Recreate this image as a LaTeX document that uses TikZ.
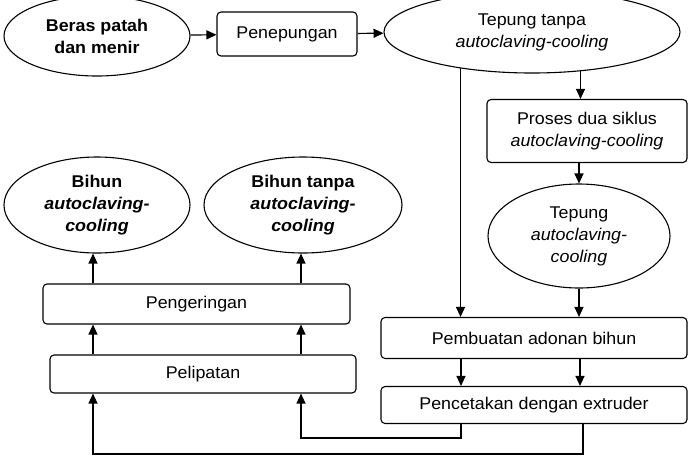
\documentclass[tikz,border=0pt]{standalone}
\usepackage{fontspec}
\setmainfont[FakeStretch=1.05]{Liberation Sans}
\usepackage{xcolor}
\usepackage{tikz}
\usetikzlibrary{arrows.meta, positioning, shapes.geometric}

\begin{document}
\begin{tikzpicture}[
  x=1pt, y=-1pt,
  font=\fontsize{17}{22}\selectfont,
  box/.style={
    rectangle,
    draw=black,
    rounded corners=4pt,
    align=center,
    inner sep=0pt,
    line width=1.1pt
  },
  oval/.style={
    ellipse,
    draw=black,
    align=center,
    inner sep=0pt,
    line width=1.1pt
  },
  flow/.style={
    -{Triangle[length=10pt, width=9pt]},
    line width=1.2pt
  }
]

\useasboundingbox (0,0) rectangle (690,461);

% --- Top row ---------------------------------------------------------

\node[oval, minimum width=186pt, minimum height=80pt] (beras) at (97,36)
{\textbf{Beras patah}\\\textbf{dan menir}};

\node[box, minimum width=140pt, minimum height=44pt] (pene) at (287,34)
{Penepungan};

\node[oval, minimum width=296pt, minimum height=82pt] (tt) at (532,32)
{Tepung tanpa\\\textit{autoclaving-cooling}};

% --- Right column ----------------------------------------------------

\node[box, minimum width=200pt, minimum height=63pt] (proses) at (587,131)
{Proses dua siklus\\\textit{autoclaving-cooling}};

\node[oval, minimum width=182pt, minimum height=104pt] (tac) at (579,236)
{Tepung\\\textit{autoclaving-}\\\textit{cooling}};

\node[box, minimum width=306pt, minimum height=41pt] (pemb) at (534,338)
{Pembuatan adonan bihun};

\node[box, minimum width=306pt, minimum height=37pt] (penc) at (534,405)
{Pencetakan dengan extruder};

% --- Left column -----------------------------------------------------

\node[oval, minimum width=186pt, minimum height=96pt] (bihun) at (97,205)
{\textbf{Bihun}\\\textbf{\textit{autoclaving-}}\\\textbf{\textit{cooling}}};

\node[oval, minimum width=198pt, minimum height=96pt] (bihunt) at (303,205)
{\textbf{Bihun tanpa}\\\textbf{\textit{autoclaving-}}\\\textbf{\textit{cooling}}};

\node[box, minimum width=307pt, minimum height=40pt] (kering) at (196.5,304)
{Pengeringan};

\node[box, minimum width=306pt, minimum height=38pt] (lipat) at (203,374)
{Pelipatan};

% --- Column lines ----------------------------------------------------

\coordinate (xa) at (461,0);
\coordinate (xb) at (580,0);
\coordinate (xc) at (93,0);
\coordinate (xd) at (301,0);
\coordinate (loopA) at (461,438);
\coordinate (loopB) at (583,454);

% --- Flows -----------------------------------------------------------

\draw[flow] (beras) -- (pene);
\draw[flow] (pene) -- (tt);

\draw[flow] (tt.-39) -- (tt.-39 |- proses.north);
\draw[flow] (tac.north |- proses.south) -- (tac.north);
\draw[flow] (tac.south) -- (tac.south |- pemb.north);

% flour without treatment goes straight to the dough
\draw[flow] (tt.-153) -- (tt.-153 |- pemb.north);

\draw[flow] (xa |- pemb.south) -- (xa |- penc.north);
\draw[flow] (xb |- pemb.south) -- (xb |- penc.north);

% back to folding
\draw[flow] (loopA |- penc.south) -- (loopA) -| (xd |- lipat.south);
\draw[flow] (loopB |- penc.south) -- (loopB) -| (xc |- lipat.south);

\draw[flow] (xc |- lipat.north) -- (xc |- kering.south);
\draw[flow] (xd |- lipat.north) -- (xd |- kering.south);

\draw[flow] (xc |- kering.north) -- (xc |- bihun.south);
\draw[flow] (xd |- kering.north) -- (xd |- bihunt.south);

\end{tikzpicture}
\end{document}
